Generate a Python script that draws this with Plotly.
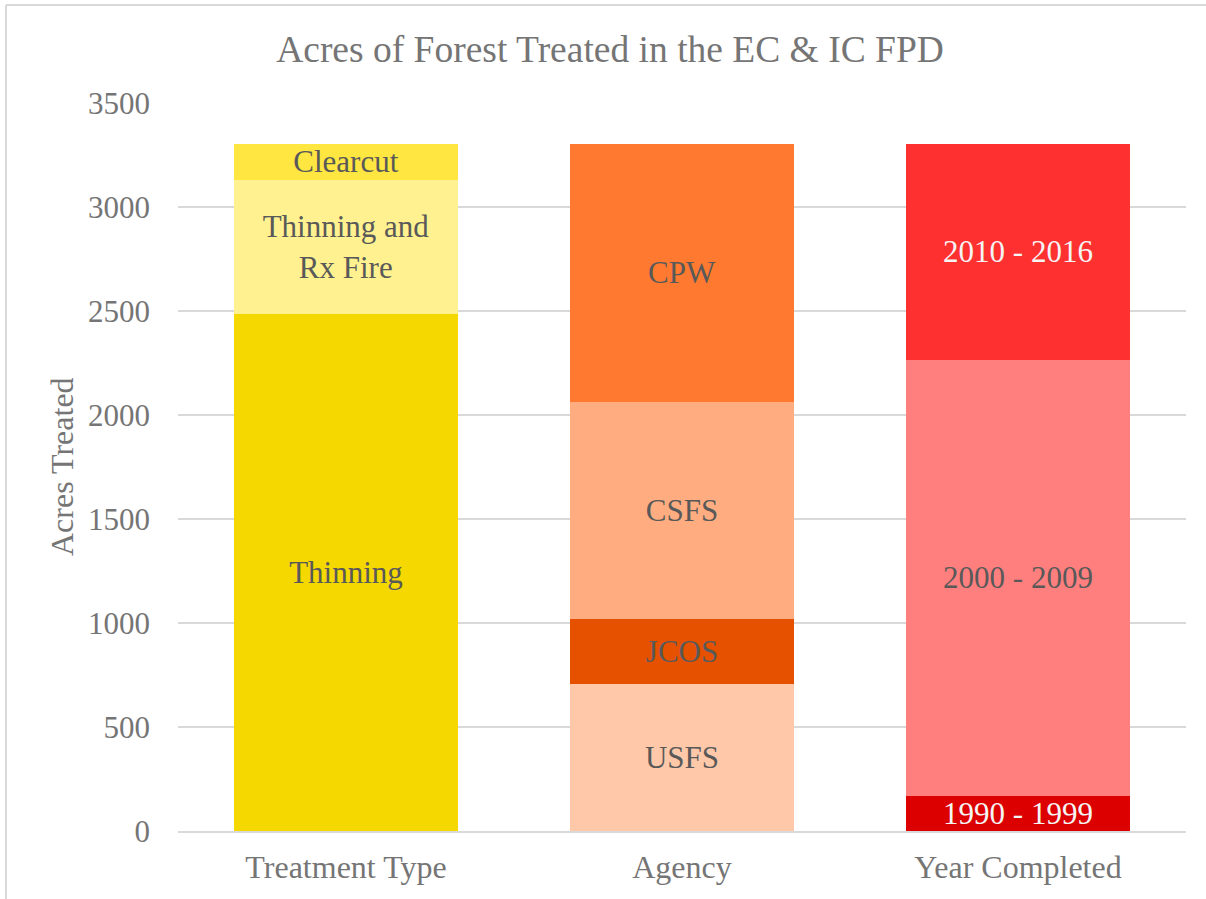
import plotly.graph_objects as go

categories = ["Treatment Type", "Agency", "Year Completed"]

treat_labels = ["Thinning", "Thinning and<br>Rx Fire", "Clearcut"]
treat_values = [2485, 645, 173]
treat_colors = ["#F5D800", "#FFF18F", "#FFE640"]

agency_labels = ["USFS", "JCOS", "CSFS", "CPW"]
agency_values = [707, 312, 1044, 1240]
agency_colors = ["#FFC8A8", "#E65100", "#FFAD80", "#FF7A30"]

year_labels = ["1990 - 1999", "2000 - 2009", "2010 - 2016"]
year_values = [168, 2097, 1038]
year_colors = ["#DD0000", "#FF7F7F", "#FF3030"]
year_text = ["#F5F5F5", "#595959", "#F5F5F5"]

yticks = [0, 500, 1000, 1500, 2000, 2500, 3000, 3500]

FONT = "Liberation Serif"
fig = go.Figure()

def add(cat, labels, values, colors, tcolors):
    for lab, v, c, tc in zip(labels, values, colors, tcolors):
        fig.add_trace(go.Bar(
            x=[cat], y=[v], name=lab.replace("<br>", " "),
            marker=dict(color=c, line=dict(width=0)),
            text=[lab], textposition="inside", insidetextanchor="middle",
            textangle=0, textfont=dict(family=FONT, size=31, color=tc),
            hoverinfo="skip"))

add(categories[0], treat_labels, treat_values, treat_colors, ["#595959"] * 3)
add(categories[1], agency_labels, agency_values, agency_colors, ["#595959"] * 4)
add(categories[2], year_labels, year_values, year_colors, year_text)

fig.update_layout(
    width=1206, height=899,
    barmode="stack", bargap=0.333,
    showlegend=False,
    paper_bgcolor="white", plot_bgcolor="white",
    margin=dict(l=178, r=20, t=103, b=68),
    uniformtext=dict(mode="show", minsize=31),
    title=dict(text="Acres of Forest Treated in the EC & IC FPD",
               font=dict(family=FONT, size=37.5, color="#757575"),
               x=610 / 1206, xanchor="center", y=0.946, yanchor="middle"),
    font=dict(family=FONT, color="#757575"),
)
fig.update_yaxes(range=[0, 3500], tickvals=yticks, showgrid=True,
                 gridcolor="#D9D9D9", gridwidth=2, zeroline=False,
                 showline=False, ticks="", ticklabelstandoff=27,
                 tickfont=dict(family=FONT, size=31, color="#757575"))
fig.update_xaxes(showgrid=False, showline=True, linecolor="#D9D9D9", linewidth=2,
                 ticks="", tickfont=dict(family=FONT, size=32, color="#757575"),
                 ticklabelstandoff=7)

# y-axis title
fig.add_annotation(text="Acres Treated", xref="paper", yref="paper",
                   x=(62 - 178) / 1008, y=(831 - 467) / 728,
                   xanchor="center", yanchor="middle", showarrow=False,
                   textangle=-90,
                   font=dict(family=FONT, size=32, color="#757575"))

# outer frame (left and top edges visible)
fig.add_shape(type="line", xref="paper", yref="paper",
              x0=(6 - 178) / 1008, x1=(1206 - 178) / 1008,
              y0=(831 - 5) / 728, y1=(831 - 5) / 728,
              line=dict(color="#D9D9D9", width=2))
fig.add_shape(type="line", xref="paper", yref="paper",
              x0=(6 - 178) / 1008, x1=(6 - 178) / 1008,
              y0=(831 - 5) / 728, y1=(831 - 899) / 728,
              line=dict(color="#D9D9D9", width=2))

fig.write_html("out.html", config={"displayModeBar": False},
               post_script="document.body.style.margin='0';")
